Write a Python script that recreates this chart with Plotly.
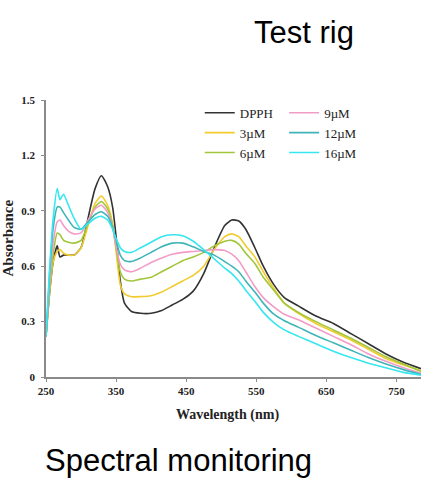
import plotly.graph_objects as go

wavelength = [250, 255, 260, 266, 270, 275, 282, 290, 300, 310, 320, 329, 338, 345, 350, 356, 362, 372,
              385, 400, 415, 430, 445, 460, 475, 490, 505, 515, 525, 535, 548, 560, 575, 590, 610, 635,
              660, 685, 710, 735, 760, 785]

dpph = [0.22, 0.45, 0.62, 0.71, 0.65, 0.66, 0.66, 0.66, 0.70, 0.86, 1.02, 1.09, 1.03, 0.92, 0.76, 0.52, 0.40, 0.355,
        0.345, 0.345, 0.36, 0.39, 0.42, 0.465, 0.56, 0.70, 0.82, 0.85, 0.845, 0.80, 0.70, 0.60, 0.50, 0.43, 0.385, 0.33,
        0.29, 0.235, 0.18, 0.125, 0.08, 0.045]
c3 = [0.22, 0.45, 0.62, 0.68, 0.69, 0.67, 0.66, 0.66, 0.70, 0.82, 0.94, 0.98, 0.93, 0.83, 0.68, 0.50, 0.45, 0.435,
      0.435, 0.44, 0.46, 0.49, 0.52, 0.55, 0.60, 0.69, 0.76, 0.775, 0.76, 0.71, 0.65, 0.57, 0.48, 0.40, 0.345, 0.29,
      0.245, 0.20, 0.15, 0.10, 0.065, 0.035]
c6 = [0.22, 0.47, 0.66, 0.78, 0.77, 0.74, 0.73, 0.725, 0.74, 0.83, 0.92, 0.95, 0.91, 0.82, 0.70, 0.57, 0.53, 0.52,
      0.53, 0.54, 0.57, 0.60, 0.63, 0.65, 0.675, 0.71, 0.735, 0.74, 0.72, 0.67, 0.615, 0.54, 0.47, 0.40, 0.35, 0.30,
      0.255, 0.21, 0.16, 0.11, 0.07, 0.03]
c9 = [0.22, 0.50, 0.72, 0.84, 0.85, 0.82, 0.79, 0.775, 0.78, 0.85, 0.91, 0.93, 0.89, 0.81, 0.71, 0.61, 0.58, 0.57,
      0.59, 0.62, 0.645, 0.665, 0.675, 0.68, 0.685, 0.69, 0.685, 0.665, 0.63, 0.57, 0.49, 0.43, 0.38, 0.34, 0.31, 0.265,
      0.22, 0.175, 0.125, 0.085, 0.05, 0.02]
c12 = [0.22, 0.55, 0.80, 0.92, 0.92, 0.89, 0.85, 0.81, 0.80, 0.84, 0.88, 0.895, 0.87, 0.81, 0.74, 0.66, 0.63, 0.625,
       0.645, 0.675, 0.705, 0.725, 0.725, 0.705, 0.68, 0.66, 0.625, 0.60, 0.57, 0.52, 0.46, 0.40, 0.34, 0.305, 0.27, 0.225,
       0.185, 0.145, 0.105, 0.07, 0.04, 0.015]
c16 = [0.22, 0.58, 0.85, 1.02, 0.96, 0.99, 0.93, 0.86, 0.80, 0.83, 0.86, 0.87, 0.85, 0.80, 0.75, 0.70, 0.68, 0.675,
       0.70, 0.73, 0.76, 0.77, 0.765, 0.735, 0.69, 0.64, 0.59, 0.56, 0.52, 0.47, 0.41, 0.35, 0.295, 0.255, 0.22, 0.18,
       0.14, 0.105, 0.075, 0.05, 0.025, 0.01]

series_names = ["DPPH", "3µM", "6µM", "9µM", "12µM", "16µM"]
series_values = [dpph, c3, c6, c9, c12, c16]
series_colors = ["#333333", "#F2CC2E", "#A2C63A", "#F29CC7", "#3FB5B8", "#36E6F0"]
legend_ids = ["legend", "legend", "legend", "legend2", "legend2", "legend2"]

x_ticks = [250, 350, 450, 550, 650, 750]
y_ticks = [0, 0.3, 0.6, 0.9, 1.2, 1.5]
y_tick_text = ["0", "0.3", "0.6", "0.9", "1.2", "1.5"]

fig = go.Figure()
for name, vals, col, lg in zip(series_names, series_values, series_colors, legend_ids):
    fig.add_trace(go.Scatter(x=wavelength, y=vals, mode="lines", name=name,
                             line=dict(color=col, width=1.6, shape="spline", smoothing=0.6),
                             legend=lg))

serif = "Liberation Serif, Times New Roman, serif"
axis_common = dict(showline=True, linecolor="#8a8a8a", linewidth=1.5, showgrid=False, zeroline=False,
                   ticks="outside", ticklen=3, tickcolor="#8a8a8a", tickwidth=1,
                   tickfont=dict(family=serif, size=11, color="#222222", weight="bold"))

fig.update_layout(
    width=424, height=483,
    margin=dict(l=46, r=3, t=100, b=106),
    paper_bgcolor="white", plot_bgcolor="white",
    showlegend=True,
    xaxis=dict(range=[250, 785], tickvals=x_ticks, **axis_common),
    yaxis=dict(range=[0, 1.5], tickvals=y_ticks, ticktext=y_tick_text, ticklabelstandoff=4, **axis_common),
    legend=dict(x=0.41, y=1.008, xanchor="left", yanchor="top", bgcolor="rgba(0,0,0,0)",
                font=dict(family=serif, size=13, color="#222222"), tracegroupgap=0),
    legend2=dict(x=0.635, y=1.008, xanchor="left", yanchor="top", bgcolor="rgba(0,0,0,0)",
                 font=dict(family=serif, size=13, color="#222222"), tracegroupgap=0),
    annotations=[
        dict(text="<b>Absorbance</b>", x=7, y=0.5, xref="paper", yref="paper", textangle=-90,
             showarrow=False, font=dict(family=serif, size=15, color="#222222"), xanchor="center", yanchor="middle"),
        dict(text="<b>Wavelength (nm)</b>", x=227, y=415, showarrow=False,
             font=dict(family=serif, size=14, color="#222222"), xanchor="center", yanchor="middle"),
        dict(text="Test rig", x=304, y=32, showarrow=False,
             font=dict(family="Liberation Sans, Arial", size=31, color="black"),
             xanchor="center", yanchor="middle"),
        dict(text="Spectral monitoring", x=178, y=460, showarrow=False,
             font=dict(family="Liberation Sans, Arial", size=31, color="black"),
             xanchor="center", yanchor="middle"),
    ],
)

# convert pixel-placed annotations to paper coordinates
pw, ph = 424 - 46 - 3, 483 - 100 - 106
for a in fig.layout.annotations[1:]:
    px, py = a.x, a.y
    a.xref = "paper"; a.yref = "paper"
    a.x = (px - 46) / pw
    a.y = (377 - py) / ph
fig.layout.annotations[0].x = (7 - 46) / pw

fig.write_html("out.html")
